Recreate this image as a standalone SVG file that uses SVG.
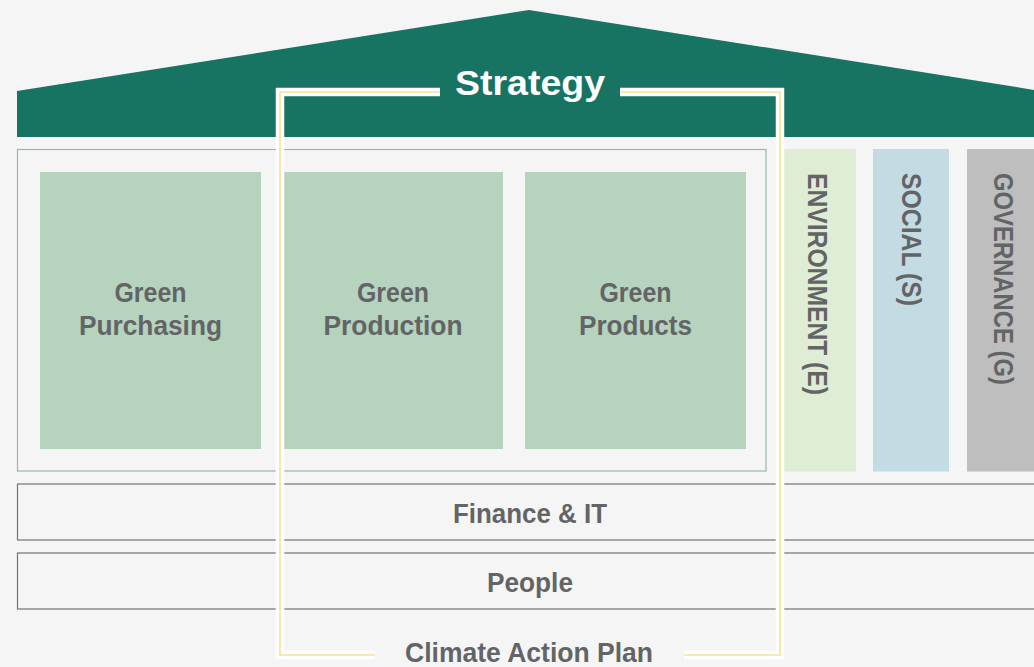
<svg xmlns="http://www.w3.org/2000/svg" width="1034" height="667" viewBox="0 0 1034 667">
  <style>
    .lbl { font-family: "Liberation Sans", Arial, sans-serif; font-weight: bold; fill: #636466; }
    .white { fill: #ffffff; }
    .pillar { fill: #b5d3bd; }
    .row { fill: none; stroke: #747474; stroke-width: 1.2; }
  </style>
  <rect x="0" y="0" width="1034" height="667" fill="#f5f5f5"/>

  <g id="roof">
    <polygon points="17,137 17,91 529,10 1041,91 1041,137" fill="#177462"/>
  </g>

  <g id="core">
    <rect x="17.5" y="149.5" width="748.5" height="321.5" fill="none" stroke="#93b9ab" stroke-width="1.2"/>
  </g>

  <g id="green-purchasing">
    <rect class="pillar" x="40" y="172" width="221" height="277"/>
    <text class="lbl" font-size="27" text-anchor="middle" x="150.5" y="302" textLength="72" lengthAdjust="spacingAndGlyphs">Green</text>
    <text class="lbl" font-size="27" text-anchor="middle" x="150.5" y="335" textLength="143" lengthAdjust="spacingAndGlyphs">Purchasing</text>
  </g>
  <g id="green-production">
    <rect class="pillar" x="283" y="172" width="220" height="277"/>
    <text class="lbl" font-size="27" text-anchor="middle" x="393" y="302" textLength="72" lengthAdjust="spacingAndGlyphs">Green</text>
    <text class="lbl" font-size="27" text-anchor="middle" x="393" y="335" textLength="139" lengthAdjust="spacingAndGlyphs">Production</text>
  </g>
  <g id="green-products">
    <rect class="pillar" x="525" y="172" width="221" height="277"/>
    <text class="lbl" font-size="27" text-anchor="middle" x="635.5" y="302" textLength="72" lengthAdjust="spacingAndGlyphs">Green</text>
    <text class="lbl" font-size="27" text-anchor="middle" x="635.5" y="335" textLength="113" lengthAdjust="spacingAndGlyphs">Products</text>
  </g>

  <g id="environment">
    <rect x="784" y="149" width="72" height="322.5" fill="#deedd3"/>
    <text class="lbl" font-size="27" x="807.5" y="173" transform="rotate(90 807.5 173)" textLength="222" lengthAdjust="spacingAndGlyphs">ENVIRONMENT (E)</text>
  </g>
  <g id="social">
    <rect x="873" y="149" width="76" height="322.5" fill="#c3dbe2"/>
    <text class="lbl" font-size="27" x="902" y="173" transform="rotate(90 902 173)" textLength="133" lengthAdjust="spacingAndGlyphs">SOCIAL (S)</text>
  </g>
  <g id="governance">
    <rect x="967" y="149" width="80" height="322.5" fill="#bebebf"/>
    <text class="lbl" font-size="27" x="994" y="173" transform="rotate(90 994 173)" textLength="212" lengthAdjust="spacingAndGlyphs">GOVERNANCE (G)</text>
  </g>

  <g id="finance-it">
    <rect class="row" x="17.5" y="484" width="1100" height="56"/>
    <text class="lbl" font-size="27" text-anchor="middle" x="530" y="522.5" textLength="154" lengthAdjust="spacingAndGlyphs">Finance &amp; IT</text>
  </g>
  <g id="people">
    <rect class="row" x="17.5" y="553" width="1100" height="56"/>
    <text class="lbl" font-size="27" text-anchor="middle" x="530" y="591.5" textLength="86" lengthAdjust="spacingAndGlyphs">People</text>
  </g>

  <g id="connectors">
    <path d="M440,92 H280 V655 H375 M684,655 H780 V92 H620" fill="none" stroke="#ffffff" stroke-width="8.5"/>
    <path d="M440,92 H280 V655 H375 M684,655 H780 V92 H620" fill="none" stroke="#f6e295" stroke-width="1.6"/>
  </g>

  <g id="strategy">
    <text class="white" font-family="Liberation Sans, Arial, sans-serif" font-weight="bold" font-size="35" text-anchor="middle" x="530" y="94.5" textLength="150" lengthAdjust="spacingAndGlyphs">Strategy</text>
  </g>
  <g id="climate-action-plan">
    <text class="lbl" font-size="27" text-anchor="middle" x="529" y="661.5" textLength="248" lengthAdjust="spacingAndGlyphs">Climate Action Plan</text>
  </g>
</svg>
